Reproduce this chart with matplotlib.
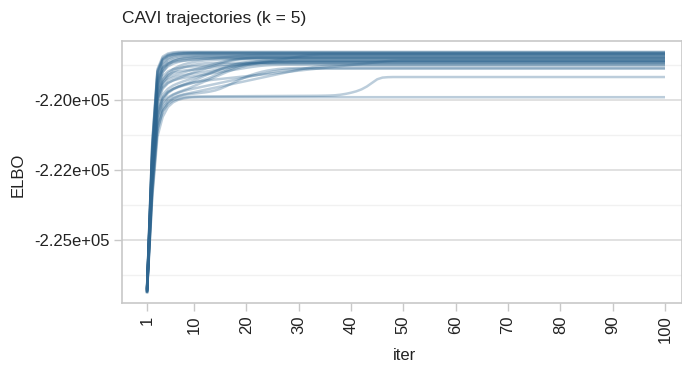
import numpy as np
import matplotlib
matplotlib.use("Agg")
import matplotlib.pyplot as plt
from matplotlib.ticker import FixedLocator

# ---------------- data (ELBO per CAVI iteration; runs stay constant after convergence) ----------------
n_iter = 100
x_ticks = [1, 10, 20, 30, 40, 50, 60, 70, 80, 90, 100]
x_tick_labels = ["1", "10", "20", "30", "40", "50", "60", "70", "80", "90", "100"]
y_major = [-220000, -222500, -225000]
y_major_labels = ["-2.20e+05", "-2.22e+05", "-2.25e+05"]
y_minor = [-218750, -221250, -223750, -226250]

r01 = [-226800, -221500, -218900, -218450, -218340, -218300, -218285, -218280]
r02 = [-226750, -221700, -219000, -218550, -218420, -218370, -218350, -218340, -218335, -218330]
r03 = [-226850, -221900, -219200, -218700, -218520, -218440, -218400, -218380, -218370, -218365, -218360]
r04 = [-226800, -222100, -219400, -218850, -218650, -218550, -218500, -218470, -218450, -218440, -218430, -218425, -218420]
r05 = [-226900, -222300, -219600, -219000, -218750, -218620, -218550, -218510, -218490, -218475, -218465, -218460]
r06 = [-226700, -221600, -218950, -218500, -218380, -218330, -218310, -218300]
r07 = [-226800, -222000, -219500, -219000, -218800, -218700, -218640, -218600, -218570, -218550, -218535, -218525,
       -218520, -218515, -218510]
r08 = [-226850, -222400, -219800, -219300, -219050, -218900, -218800, -218730, -218680, -218640, -218610, -218590,
       -218575, -218565, -218560, -218555, -218550]
r09 = [-226800, -222600, -220100, -219600, -219400, -219300, -219220, -219150, -219080, -219010, -218950, -218890,
       -218830, -218770, -218710, -218650, -218600, -218560, -218530, -218510, -218495, -218485, -218480]
r10 = [-226750, -222200, -219700, -219250, -219100, -219020, -218980, -218950, -218930, -218910, -218890, -218870,
       -218850, -218830, -218810, -218790, -218770, -218750, -218730, -218710, -218690, -218675, -218665, -218660,
       -218655, -218650]
r11 = [-226900, -222800, -220400, -219900, -219700, -219600, -219520, -219450, -219380, -219300, -219220, -219140,
       -219060, -218980, -218900, -218830, -218770, -218720, -218680, -218650, -218630, -218615, -218605, -218600]
r12 = [-226800, -222500, -220000, -219550, -219380, -219300, -219250, -219210, -219180, -219150, -219120, -219090,
       -219060, -219030, -219000, -218970, -218940, -218910, -218880, -218850, -218820, -218795, -218775, -218760,
       -218750, -218745, -218740]
r13 = [-226850, -223000, -220600, -220100, -219900, -219800, -219720, -219650, -219580, -219500, -219420, -219340,
       -219260, -219180, -219100, -219020, -218950, -218880, -218820, -218770, -218730, -218700, -218680, -218665,
       -218655, -218650]
r14 = [-226750, -222100, -219600, -219150, -218980, -218900, -218860, -218830, -218810, -218800, -218790, -218780,
       -218770, -218760, -218750, -218740, -218730, -218720, -218710, -218700, -218690, -218680, -218670, -218660,
       -218650, -218640, -218630, -218620, -218610, -218600]
r15 = [-226800, -222700, -220300, -219800, -219600, -219480, -219400, -219330, -219270, -219210, -219150, -219090,
       -219030, -218970, -218910, -218860, -218820, -218790, -218765, -218745, -218730, -218720, -218710, -218705,
       -218700]
r16 = [-226700, -221900, -219300, -218850, -218700, -218640, -218610, -218590, -218575, -218560, -218545, -218530,
       -218515, -218500, -218485, -218470, -218455, -218440, -218425, -218410, -218400, -218390, -218385, -218380]
r17 = [-226850, -223200, -220900, -220300, -220050, -219920, -219850, -219800, -219760, -219720, -219680, -219640,
       -219600, -219560, -219520, -219480, -219440, -219400, -219360, -219320, -219280, -219240, -219200, -219160,
       -219120, -219080, -219040, -219000, -218960, -218920, -218880, -218850, -218820, -218800, -218785, -218775,
       -218770]
r18 = [-226900, -223400, -221100, -220400, -220100, -219950, -219870, -219820, -219790, -219770, -219750, -219730,
       -219700, -219660, -219600, -219520, -219430, -219340, -219250, -219170, -219100, -219040, -218990, -218950,
       -218920, -218895, -218880, -218870, -218865, -218860]
r19 = [-226800, -222900, -220500, -219950, -219720, -219600, -219520, -219460, -219410, -219370, -219340, -219310,
       -219290, -219270, -219250, -219230, -219210, -219190, -219170, -219150, -219130, -219110, -219090, -219070,
       -219050, -219030, -219010, -218990, -218970, -218950, -218930, -218910, -218890, -218870, -218850, -218830,
       -218810, -218790, -218770, -218750, -218730, -218710, -218690, -218670, -218650, -218630, -218610, -218595,
       -218585, -218580]
r20 = [-226750, -222400, -219900, -219450, -219280, -219200, -219150, -219110, -219080, -219050, -219020, -218990,
       -218960, -218930, -218900, -218870, -218840, -218810, -218780, -218750, -218720, -218690, -218660, -218630,
       -218600, -218570, -218540, -218510, -218480, -218450, -218420, -218400, -218385, -218375, -218370]
r21 = [-226850, -223100, -220800, -220200, -219950, -219820, -219740, -219680, -219630, -219590, -219550, -219510,
       -219470, -219430, -219390, -219350, -219310, -219270, -219230, -219190, -219150, -219110, -219070, -219030,
       -218990, -218960, -218935, -218915, -218900, -218890, -218885, -218880]
r22 = [-226900, -223500, -221300, -220600, -220250, -220080, -219990, -219940, -219915, -219905, -219900]
r23 = [-226850, -223300, -221000, -220400, -220150, -220020, -219950, -219910, -219890, -219880, -219875, -219872,
       -219870, -219869, -219868, -219867, -219866, -219865, -219864, -219863, -219862, -219861, -219860, -219859,
       -219858, -219857, -219856, -219855, -219854, -219853, -219852, -219851, -219850, -219848, -219845, -219840,
       -219830, -219810, -219780, -219740, -219690, -219620, -219520, -219390, -219260, -219200, -219185, -219180]
r24 = [-226800, -221800, -219100, -218600, -218450, -218390, -218360, -218345, -218340]
r25 = [-226750, -222000, -219300, -218750, -218560, -218480, -218440, -218420, -218410, -218405, -218400]
r26 = [-226850, -222200, -219450, -218900, -218700, -218600, -218550, -218525, -218510, -218500]
r27 = [-226800, -221600, -219000, -218550, -218420, -218370, -218345, -218330, -218320, -218315, -218310]
r28 = [-226900, -222600, -220000, -219400, -219150, -219000, -218900, -218830, -218780, -218740, -218710, -218690,
       -218680, -218675, -218670]
r29 = [-226700, -222300, -219800, -219350, -219200, -219120, -219060, -219010, -218960, -218910, -218860, -218810,
       -218760, -218710, -218660, -218610, -218570, -218540, -218520, -218505, -218495, -218490]
r30 = [-226800, -222900, -220600, -220000, -219750, -219620, -219540, -219480, -219430, -219380, -219330, -219270,
       -219200, -219120, -219040, -218960, -218880, -218810, -218750, -218700, -218660, -218630, -218610, -218600,
       -218595, -218590]

runs = [r01, r02, r03, r04, r05, r06, r07, r08, r09, r10, r11, r12, r13, r14, r15,
        r16, r17, r18, r19, r20, r21, r22, r23, r24, r25, r26, r27, r28, r29, r30]

# ---------------- figure ----------------
plt.rcParams['font.family'] = ['Liberation Sans', 'DejaVu Sans']
fig = plt.figure(figsize=(6.82, 3.65), dpi=100)
ax = fig.add_axes([122 / 682, 1 - 303 / 365, 560 / 682, 262 / 365])

iters = np.arange(1, n_iter + 1)
line_color = '#2f6690'
for r in runs:
    vals = np.asarray(r, dtype=float)
    full = np.concatenate([vals, np.full(n_iter - len(vals), vals[-1])])  # converged: value stays fixed
    ax.plot(iters, full, color=line_color, alpha=0.32, lw=1.8, solid_capstyle='butt', zorder=3)

ax.set_xlim(-3.78, 103.25)
ax.set_ylim(-227250, -217893)

for v in y_minor:
    ax.axhline(v, color='#f1f1f1', lw=1.0, zorder=1)
for v in y_major:
    ax.axhline(v, color='#dcdcdc', lw=1.2, zorder=1)

ax.xaxis.set_major_locator(FixedLocator(x_ticks))
ax.set_xticklabels(x_tick_labels, rotation=90)
ax.yaxis.set_major_locator(FixedLocator(y_major))
ax.set_yticklabels(y_major_labels)

ax.tick_params(axis='both', which='major', length=6, width=1, color='#c8c8c8',
               labelsize=12, labelcolor='#222222', pad=3)
for s in ax.spines.values():
    s.set_color('#c8c8c8')
    s.set_linewidth(1.2)

fig.text(122 / 682, 1 - 18 / 365, "CAVI trajectories (k = 5)", ha='left', va='center',
         fontsize=12.5, color='#222222')
fig.text(18 / 682, 1 - 175 / 365, "ELBO", ha='center', va='center', rotation=90,
         fontsize=12, color='#222222')
fig.text(405 / 682, 1 - 356 / 365, "iter", ha='center', va='center', fontsize=12, color='#222222')

fig.savefig("out.png", dpi=100)
